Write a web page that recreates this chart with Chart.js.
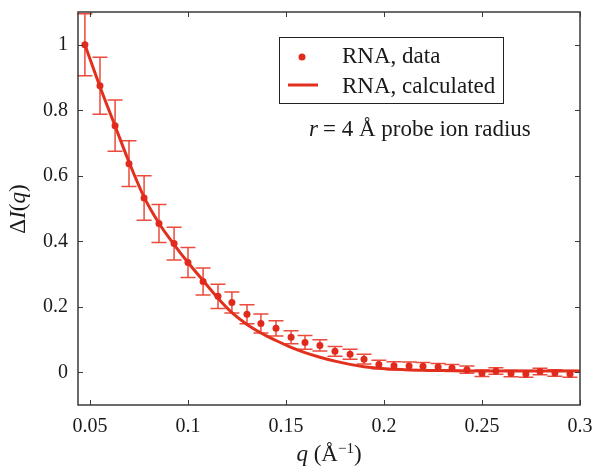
<!DOCTYPE html>
<html>
<head>
<meta charset="utf-8">
<script src="https://cdn.jsdelivr.net/npm/chart.js@4/dist/chart.umd.min.js"></script>
<style>
  html, body { margin: 0; padding: 0; background: #fff; }
</style>
</head>
<body>
<canvas id="mycanvas" width="592" height="466"></canvas>
<script>
// measured RNA data (q in 1/A), values and error half-widths
var qData = [0.0474, 0.0551, 0.0628, 0.0699, 0.0776, 0.0852, 0.0929, 0.1000, 0.1077, 0.1153,
             0.1224, 0.1301, 0.1372, 0.1449, 0.1526, 0.1597, 0.1673, 0.1750, 0.1827, 0.1898,
             0.1974, 0.2051, 0.2128, 0.2199, 0.2276, 0.2347, 0.2423, 0.2500, 0.2571, 0.2648,
             0.2724, 0.2796, 0.2872, 0.2949];
var iData = [1.000, 0.875, 0.753, 0.637, 0.532, 0.454, 0.393, 0.335, 0.277, 0.232,
             0.213, 0.177, 0.149, 0.134, 0.107, 0.091, 0.082, 0.064, 0.055, 0.040,
             0.024, 0.020, 0.019, 0.018, 0.016, 0.013, 0.008, -0.003, 0.004, -0.004,
             -0.005, 0.002, -0.002, -0.005];
var iErr = [0.095, 0.087, 0.078, 0.070, 0.068, 0.058, 0.050, 0.046, 0.041, 0.037,
            0.032, 0.029, 0.029, 0.023, 0.020, 0.021, 0.017, 0.015, 0.015, 0.015,
            0.013, 0.012, 0.012, 0.012, 0.011, 0.011, 0.011, 0.010, 0.010, 0.010,
            0.010, 0.010, 0.010, 0.010];

// calculated curve
var qCalc = [0.0474, 0.0551, 0.0628, 0.0699, 0.0776, 0.0852, 0.0929, 0.1000, 0.1077, 0.1153,
             0.1224, 0.1301, 0.1372, 0.1449, 0.1526, 0.1597, 0.1673, 0.1750, 0.1827, 0.1898,
             0.1974, 0.2051, 0.2128, 0.2199, 0.2276, 0.2347, 0.2423, 0.2500, 0.2571, 0.2648,
             0.2724, 0.2796, 0.2872, 0.2949, 0.3000];
var iCalc = [1.000, 0.872, 0.752, 0.642, 0.535, 0.455, 0.390, 0.335, 0.280, 0.226,
             0.182, 0.146, 0.120, 0.097, 0.076, 0.060, 0.046, 0.034, 0.024, 0.017,
             0.012, 0.009, 0.007, 0.006, 0.005, 0.005, 0.004, 0.004, 0.004, 0.004,
             0.004, 0.004, 0.004, 0.004, 0.004];

var xTicks = [0.05, 0.1, 0.15, 0.2, 0.25, 0.3];
var xTickLabels = ['0.05', '0.1', '0.15', '0.2', '0.25', '0.3'];
var yTicks = [0, 0.2, 0.4, 0.6, 0.8, 1];
var yTickLabels = ['0', '0.2', '0.4', '0.6', '0.8', '1'];

var serif = '"Liberation Serif", "Times New Roman", serif';
var pointColor = '#e02a1e';
var lineColor = '#e2301f';
var errColor = '#ea4b3c';
var axisColor = '#3a3a3a';

function drawRuns(ctx, runs, x, y) {
  // draws mixed-font text centred on x
  var total = 0;
  runs.forEach(function(r) { ctx.font = r.f; r.w = ctx.measureText(r.t).width; total += r.w; });
  var cx = x - total / 2;
  runs.forEach(function(r) {
    ctx.font = r.f;
    ctx.fillText(r.t, cx, y + (r.dy || 0));
    cx += r.w;
  });
}

var errorBars = {
  id: 'errorBars',
  beforeDatasetsDraw: function(chart) {
    var ctx = chart.ctx, xs = chart.scales.x, ys = chart.scales.y;
    ctx.save();
    ctx.strokeStyle = errColor;
    ctx.lineWidth = 1.5;
    for (var i = 0; i < qData.length; i++) {
      var px = xs.getPixelForValue(qData[i]);
      var top = ys.getPixelForValue(iData[i] + iErr[i]);
      var bot = ys.getPixelForValue(iData[i] - iErr[i]);
      ctx.beginPath();
      ctx.moveTo(px, top); ctx.lineTo(px, bot);
      ctx.moveTo(px - 7.5, top); ctx.lineTo(px + 7.5, top);
      ctx.moveTo(px - 7.5, bot); ctx.lineTo(px + 7.5, bot);
      ctx.stroke();
    }
    ctx.restore();
  }
};

var frameAndText = {
  id: 'frameAndText',
  afterDraw: function(chart) {
    var ctx = chart.ctx, a = chart.chartArea, xs = chart.scales.x, ys = chart.scales.y;
    ctx.save();
    // box + inward ticks on all four sides
    ctx.strokeStyle = axisColor;
    ctx.lineWidth = 1.5;
    ctx.strokeRect(a.left, a.top, a.right - a.left, a.bottom - a.top);
    ctx.lineWidth = 1;
    ctx.beginPath();
    xTicks.forEach(function(v) {
      var px = Math.round(xs.getPixelForValue(v)) + 0.5;
      ctx.moveTo(px, a.bottom); ctx.lineTo(px, a.bottom - 5);
      ctx.moveTo(px, a.top); ctx.lineTo(px, a.top + 5);
    });
    yTicks.forEach(function(v) {
      var py = Math.round(ys.getPixelForValue(v)) + 0.5;
      ctx.moveTo(a.left, py); ctx.lineTo(a.left + 5, py);
      ctx.moveTo(a.right, py); ctx.lineTo(a.right - 5, py);
    });
    ctx.stroke();

    // legend box
    var ds = chart.data.datasets;
    ctx.lineWidth = 1;
    ctx.strokeStyle = '#222';
    ctx.strokeRect(279.5, 37.5, 224, 66);
    ctx.fillStyle = pointColor;
    ctx.beginPath();
    ctx.arc(302, 57, 3.5, 0, Math.PI * 2);
    ctx.fill();
    ctx.strokeStyle = lineColor;
    ctx.lineWidth = 3;
    ctx.beginPath();
    ctx.moveTo(288, 85); ctx.lineTo(318, 85);
    ctx.stroke();
    ctx.fillStyle = '#1a1a1a';
    ctx.font = '23px ' + serif;
    ctx.textBaseline = 'middle';
    ctx.textAlign = 'left';
    ctx.fillText(ds[0].label, 342, 57);
    ctx.fillText(ds[1].label, 342, 87);

    // annotation
    ctx.font = 'italic 23px ' + serif;
    ctx.fillText('r', 309, 130);
    ctx.font = '23px ' + serif;
    ctx.fillText('= 4 Å probe ion radius', 323, 130);

    // x title
    drawRuns(ctx, [
      { t: 'q', f: 'italic 23px ' + serif },
      { t: ' (Å', f: '23px ' + serif },
      { t: '−1', f: '15px ' + serif, dy: -6 },
      { t: ')', f: '23px ' + serif }
    ], 329, 455);

    // y title
    ctx.translate(19, 209);
    ctx.rotate(-Math.PI / 2);
    drawRuns(ctx, [
      { t: 'Δ', f: '23px ' + serif },
      { t: 'I', f: 'italic 23px ' + serif },
      { t: '(', f: '23px ' + serif },
      { t: 'q', f: 'italic 23px ' + serif },
      { t: ')', f: '23px ' + serif }
    ], 0, 0);
    ctx.restore();
  }
};

var dataPoints = [];
for (var i in qData) {
  dataPoints.push({ x: qData[i], y: iData[i] });
}
var calcPoints = [];
for (var j in qCalc) {
  calcPoints.push({ x: qCalc[j], y: iCalc[j] });
}

var ctx = document.getElementById('mycanvas');
var chart = new Chart(ctx, {
  type: 'scatter',
  data: {
    datasets: [
      {
        label: 'RNA, data',
        data: dataPoints,
        backgroundColor: pointColor,
        borderColor: pointColor,
        pointRadius: 3.5,
        pointBorderWidth: 0,
        order: 0
      },
      {
        label: 'RNA, calculated',
        type: 'line',
        data: calcPoints,
        borderColor: lineColor,
        borderWidth: 3,
        pointRadius: 0,
        fill: false,
        cubicInterpolationMode: 'monotone',
        order: 1
      }
    ]
  },
  options: {
    responsive: false,
    animation: false,
    devicePixelRatio: 1,
    layout: { padding: 0 },
    plugins: {
      legend: { display: false },
      tooltip: { enabled: false }
    },
    scales: {
      x: {
        type: 'linear',
        min: 0.04388,
        max: 0.3,
        grid: { display: false, drawTicks: false },
        border: { display: false },
        afterBuildTicks: function(scale) {
          scale.ticks = xTicks.map(function(v) { return { value: v }; });
        },
        afterFit: function(scale) {
          scale.height = 61;
          scale.paddingLeft = 0;
          scale.paddingRight = 12;
        },
        ticks: {
          padding: 10,
          color: '#1a1a1a',
          font: { family: serif, size: 20 },
          maxRotation: 0,
          autoSkip: false,
          callback: function(value) {
            return xTickLabels[xTicks.indexOf(value)];
          }
        }
      },
      y: {
        type: 'linear',
        min: -0.1,
        max: 1.1,
        grid: { display: false, drawTicks: false },
        border: { display: false },
        afterBuildTicks: function(scale) {
          scale.ticks = yTicks.map(function(v) { return { value: v }; });
        },
        afterFit: function(scale) {
          scale.width = 78;
          scale.paddingTop = 12;
          scale.paddingBottom = 0;
        },
        ticks: {
          padding: 10,
          color: '#1a1a1a',
          font: { family: serif, size: 20 },
          autoSkip: false,
          callback: function(value) {
            return yTickLabels[yTicks.indexOf(value)];
          }
        }
      }
    }
  },
  plugins: [errorBars, frameAndText]
});
</script>
</body>
</html>
